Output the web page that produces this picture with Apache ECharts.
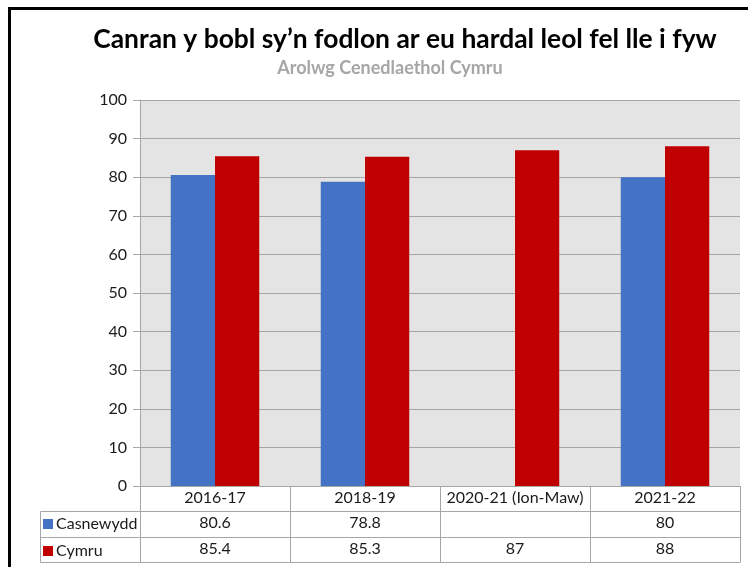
<!DOCTYPE html>
<html>
<head>
<meta charset="utf-8">
<script src="https://cdn.jsdelivr.net/npm/echarts@6/dist/echarts.min.js"></script>
<style>
  html, body { margin: 0; padding: 0; background: #fff; }
  #chart { width: 748px; height: 567px; }
</style>
</head>
<body>
<div id="chart"></div>
<script>
// Survey years and the two series shown in the chart and its data table
const categories = ['2016-17', '2018-19', '2020-21 (Ion-Maw)', '2021-22'];
const casnewydd = [80.6, 78.8, null, 80];
const cymru = [85.4, 85.3, 87, 88];
const yTicks = [0, 10, 20, 30, 40, 50, 60, 70, 80, 90, 100];

const seriesNames = ['Casnewydd', 'Cymru'];
const colors = ['#4472C4', '#C00000'];
const FONT = 'Lato, "Open Sans", sans-serif';
const lineGrey = '#A6A6A6';
const textCol = '#1a1a1a';

const chart = echarts.init(document.getElementById('chart'));

// one extra x axis per table row; each one shows that row's values under the categories
function tableAxis(offset, tickLen, formatter, showLabel) {
  return {
    type: 'category',
    data: categories,
    position: 'bottom',
    offset: offset,
    axisLine: { show: true, lineStyle: { color: lineGrey, width: 1 } },
    axisTick: { show: tickLen > 0, length: tickLen, lineStyle: { color: lineGrey } },
    axisLabel: {
      show: showLabel,
      interval: 0,
      margin: 4,
      fontFamily: FONT,
      fontSize: 16,
      color: textCol,
      formatter: formatter
    }
  };
}

const fmt = v => (v === null || v === undefined) ? '' : String(v);

chart.setOption({
  animation: false,
  textStyle: { fontFamily: FONT },
  title: [
    {
      text: 'Canran y bobl sy\u2019n fodlon ar eu hardal leol fel lle i fyw',
      left: 400, top: 21, textAlign: 'center',
      textStyle: { fontFamily: FONT, fontSize: 26.4, fontWeight: 'bold', color: '#000' }
    },
    {
      text: 'Arolwg Cenedlaethol Cymru',
      left: 385, top: 54, textAlign: 'center',
      textStyle: { fontFamily: FONT, fontSize: 18, fontWeight: 'bold', color: '#A6A6A6' }
    }
  ],
  legend: {
    orient: 'vertical',
    left: 43, top: 516,
    padding: 0,
    itemWidth: 10, itemHeight: 10,
    itemGap: 11,
    icon: 'rect',
    data: seriesNames,
    textStyle: { fontFamily: FONT, fontSize: 16, lineHeight: 16, color: textCol, padding: [0, 0, 0, -2] }
  },
  grid: {
    left: 140, right: 8, top: 100, bottom: 81,
    show: true, backgroundColor: '#E4E4E4', borderWidth: 0
  },
  xAxis: [
    tableAxis(0, 25, v => v, true),
    tableAxis(25, 26, (v, i) => fmt(casnewydd[i]), true),
    tableAxis(51, 25, (v, i) => fmt(cymru[i]), true),
    tableAxis(76, 0, () => '', false)
  ],
  yAxis: {
    type: 'value',
    min: yTicks[0], max: yTicks[yTicks.length - 1], interval: 10,
    axisLine: { show: true, lineStyle: { color: lineGrey } },
    axisTick: { show: true, length: 7, lineStyle: { color: lineGrey } },
    splitLine: { show: true, lineStyle: { color: lineGrey, width: 1 } },
    axisLabel: { margin: 13, fontFamily: FONT, fontSize: 16, color: textCol }
  },
  series: [
    {
      name: seriesNames[0], type: 'bar', xAxisIndex: 0,
      data: casnewydd,
      itemStyle: { color: colors[0] },
      barGap: '0%', barCategoryGap: '41%'
    },
    {
      name: seriesNames[1], type: 'bar', xAxisIndex: 0,
      data: cymru,
      itemStyle: { color: colors[1] },
      barGap: '0%', barCategoryGap: '41%'
    }
  ],
  graphic: [
    // outer frame of the chart area
    { type: 'rect', shape: { x: 9.5, y: 8.5, width: 820, height: 620 },
      style: { fill: null, stroke: '#000', lineWidth: 3 }, silent: true },
    // series-name column of the data table
    { type: 'line', shape: { x1: 40.5, y1: 511.5, x2: 140, y2: 511.5 }, style: { stroke: lineGrey, lineWidth: 1 } },
    { type: 'line', shape: { x1: 40.5, y1: 537.5, x2: 140, y2: 537.5 }, style: { stroke: lineGrey, lineWidth: 1 } },
    { type: 'line', shape: { x1: 40.5, y1: 562.5, x2: 140, y2: 562.5 }, style: { stroke: lineGrey, lineWidth: 1 } },
    { type: 'line', shape: { x1: 40.5, y1: 511.5, x2: 40.5, y2: 562.5 }, style: { stroke: lineGrey, lineWidth: 1 } }
  ]
});
</script>
</body>
</html>
